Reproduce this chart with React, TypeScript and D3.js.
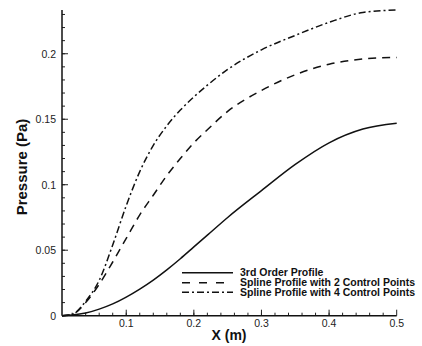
import React, { useEffect, useRef } from 'react';
import * as d3 from 'd3';

const xValues = [0.005, 0.02, 0.04, 0.06, 0.08, 0.1, 0.12, 0.14, 0.16, 0.18, 0.2, 0.22, 0.25, 0.3, 0.35, 0.4, 0.45, 0.5];
const thirdOrder = [0, 0.0005, 0.002, 0.005, 0.009, 0.0142, 0.0203, 0.0272, 0.035, 0.0435, 0.0525, 0.0615, 0.075, 0.0955, 0.1155, 0.132, 0.1425, 0.147];
const spline2 = [0, 0.001, 0.01, 0.024, 0.041, 0.059, 0.077, 0.092, 0.107, 0.12, 0.132, 0.142, 0.156, 0.172, 0.184, 0.192, 0.196, 0.1972];
const spline4 = [0, 0.001, 0.011, 0.027, 0.054, 0.084, 0.11, 0.13, 0.145, 0.157, 0.167, 0.176, 0.188, 0.203, 0.214, 0.224, 0.2315, 0.2334];

const seriesNames = ['3rd Order Profile', 'Spline Profile with 2 Control Points', 'Spline Profile with 4 Control Points'];
const dashes = [null, '8,6', '7,3,2,3'];
const legendDashes = [null, '8,9', '7,3,2,3'];

const xTicks = [0.1, 0.2, 0.3, 0.4, 0.5];
const yTicks = [0, 0.05, 0.1, 0.15, 0.2];
const xMinor = d3.range(0.02, 0.5, 0.02);
const yMinor = d3.range(0.01, 0.235, 0.01);

function Chart() {
  const ref = useRef<SVGSVGElement>(null);

  useEffect(() => {
    const svg = d3.select(ref.current);
    svg.selectAll('*').remove();

    const x = d3.scaleLinear().domain([0.005, 0.5]).range([62, 396.7]);
    const y = d3.scaleLinear().domain([0, 0.2334]).range([315.7, 10]);
    const font = 'Liberation Sans, Arial, sans-serif';

    // minor ticks
    const g = svg.append('g').attr('stroke', '#222').attr('stroke-width', 1);
    g.selectAll('.xm').data(xMinor).enter().append('line')
      .attr('x1', (d) => x(d)).attr('x2', (d) => x(d))
      .attr('y1', y(0)).attr('y2', y(0) - 3);
    g.selectAll('.ym').data(yMinor).enter().append('line')
      .attr('x1', x(0.005)).attr('x2', x(0.005) + 3)
      .attr('y1', (d) => y(d)).attr('y2', (d) => y(d));
    // major ticks
    g.selectAll('.xM').data(xTicks).enter().append('line')
      .attr('x1', (d) => x(d)).attr('x2', (d) => x(d))
      .attr('y1', y(0)).attr('y2', y(0) - 6);
    g.selectAll('.yM').data(yTicks).enter().append('line')
      .attr('x1', x(0.005)).attr('x2', x(0.005) + 6)
      .attr('y1', (d) => y(d)).attr('y2', (d) => y(d));

    // axis lines
    svg.append('line').attr('x1', x(0.005)).attr('x2', x(0.5)).attr('y1', y(0)).attr('y2', y(0))
      .attr('stroke', '#111').attr('stroke-width', 1.5);
    svg.append('line').attr('x1', x(0.005)).attr('x2', x(0.005)).attr('y1', y(0)).attr('y2', y(0.2334))
      .attr('stroke', '#111').attr('stroke-width', 1.5);

    // tick labels
    svg.selectAll('.xl').data(xTicks).enter().append('text')
      .attr('x', (d) => x(d)).attr('y', y(0) + 11.5)
      .attr('text-anchor', 'middle').attr('font-family', font).attr('font-size', 10.5).attr('fill', '#222')
      .text((d) => d3.format('~g')(d));
    svg.selectAll('.yl').data(yTicks).enter().append('text')
      .attr('x', x(0.005) - 6).attr('y', (d) => y(d) + 4)
      .attr('text-anchor', 'end').attr('font-family', font).attr('font-size', 10.5).attr('fill', '#222')
      .text((d) => d3.format('~g')(d));

    // axis titles
    svg.append('text').attr('x', 229).attr('y', 340)
      .attr('text-anchor', 'middle').attr('font-family', font).attr('font-weight', 'bold').attr('font-size', 14)
      .attr('fill', '#111').text('X (m)');
    svg.append('text').attr('transform', 'translate(27,167) rotate(-90)')
      .attr('text-anchor', 'middle').attr('font-family', font).attr('font-weight', 'bold').attr('font-size', 15)
      .attr('fill', '#111').text('Pressure (Pa)');

    // curves
    const line = d3.line<number>().x((_, i) => x(xValues[i])).y((d) => y(d)).curve(d3.curveMonotoneX);
    [thirdOrder, spline2, spline4].forEach((s, i) => {
      svg.append('path').attr('d', line(s)).attr('fill', 'none')
        .attr('stroke', '#111').attr('stroke-width', 1.5)
        .attr('stroke-dasharray', dashes[i]);
    });

    // legend
    const ly = [272.7, 282.7, 292.3];
    seriesNames.forEach((name, i) => {
      svg.append('line').attr('x1', 182).attr('x2', 233).attr('y1', ly[i]).attr('y2', ly[i])
        .attr('stroke', '#111').attr('stroke-width', 1.5).attr('stroke-dasharray', legendDashes[i]);
      svg.append('text').attr('x', 240).attr('y', ly[i] + 3.7)
        .attr('font-family', font).attr('font-weight', 'bold').attr('font-size', 10.5)
        .attr('fill', '#111').text(name);
    });
  }, []);

  return <svg ref={ref} width={422} height={346} style={{ display: 'block', background: '#fff' }} />;
}

export default function App() {
  return (
    <div style={{ position: 'absolute', left: 0, top: 0 }}>
      <Chart />
    </div>
  );
}
